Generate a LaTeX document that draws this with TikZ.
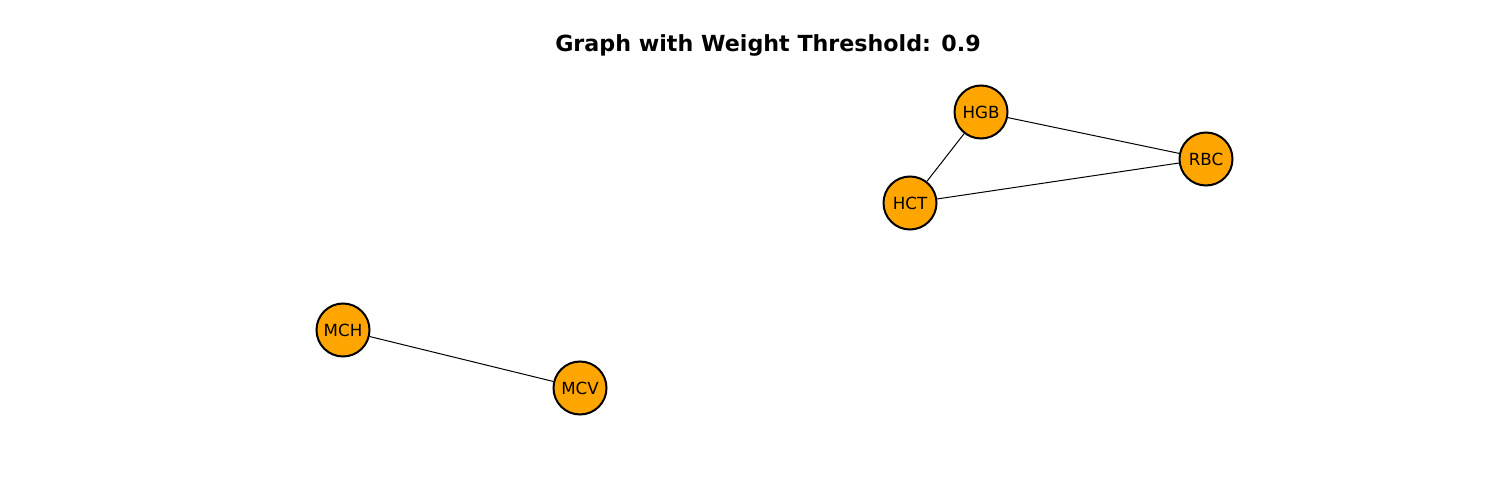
\documentclass[tikz,border=0pt]{standalone}
\usepackage{fontspec}
\setmainfont{DejaVu Sans}
\definecolor{nodeorange}{HTML}{FFA500}
\begin{document}
\begin{tikzpicture}[x=1bp, y=-1bp,
  vertex/.style={circle, draw=black, line width=2bp, fill=nodeorange, minimum size=53bp, inner sep=0pt, font=\fontsize{16.7bp}{19bp}\selectfont},
  link/.style={line width=1bp, black}]
\useasboundingbox (0,0) rectangle (1500,500);

\node[font=\fontsize{22.2bp}{26bp}\selectfont\bfseries] (title) at (768,45) {Graph with Weight Threshold: 0.9};

\node[vertex] (hgb) at (981,112) {HGB};
\node[vertex] (rbc) at (1206,159) {RBC};
\node[vertex] (hct) at (910,203) {HCT};
\node[vertex] (mch) at (343,330) {MCH};
\node[vertex] (mcv) at (580,388) {MCV};

\draw[link] (hgb) -- (rbc);
\draw[link] (hgb) -- (hct);
\draw[link] (hct) -- (rbc);
\draw[link] (mch) -- (mcv);

\end{tikzpicture}
\end{document}
